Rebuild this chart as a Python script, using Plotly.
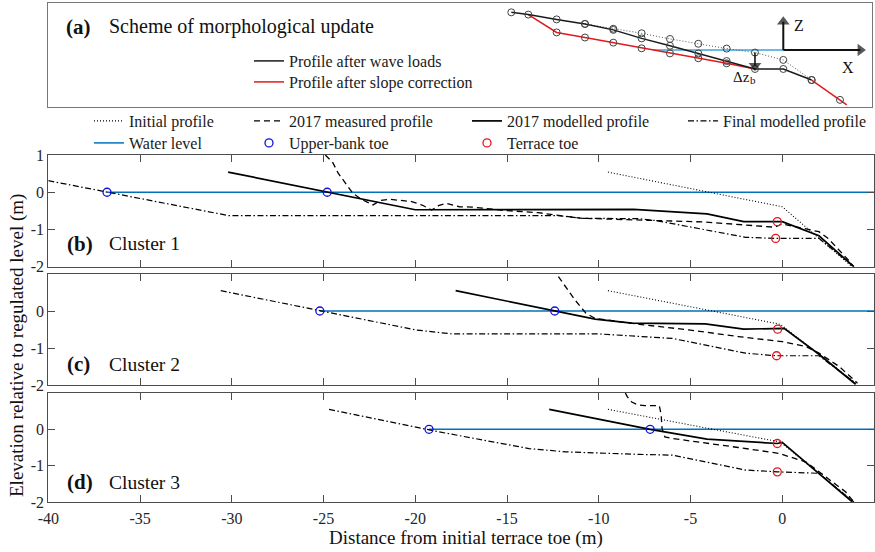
import plotly.graph_objects as go

W, H = 875, 552
FONT = "Liberation Serif"
AXC = "#4d4d4d"

# ---------------- tick labels ----------------
x_ticks = [-40, -35, -30, -25, -20, -15, -10, -5, 0, 5]
x_ticktext = ["-40", "-35", "-30", "-25", "-20", "-15", "-10", "-5", "0", "5"]
y_ticks_b = [1, 0, -1, -2]
y_ticktext_b = ["1", "0", "-1", "-2"]
y_ticks_cd = [0, -1, -2]
y_ticktext_cd = ["0", "-1", "-2"]

# ---------------- Cluster 1 (b) ----------------
init_x_1 = [-9.5, 0.0, 3.8]
init_z_1 = [0.54, -0.39, -2.0]
meas_x_1 = [-24.9, -24.5, -24.2, -23.8, -23.4, -22.9, -22.3, -21.9, -21.4, -20.8, -20.2, -19.6,
            -19.1, -18.7, -18.3, -17.6, -16.9, -15.1, -13.3, -10.9, -7.8, -4.2, -2.0, -0.4,
            0.0, 1.0, 2.0, 2.5, 3.0, 3.6, 3.9]
meas_z_1 = [1.0, 0.8, 0.51, 0.25, -0.03, -0.2, -0.34, -0.22, -0.19, -0.22, -0.25, -0.35,
            -0.48, -0.35, -0.30, -0.39, -0.40, -0.49, -0.55, -0.70, -0.74, -0.80, -0.88, -0.94,
            -0.85, -0.95, -1.06, -1.24, -1.5, -1.82, -2.0]
mod_x_1 = [-30.2, -24.8, -20.0, -8.1, -4.1, -2.1, 0.0, 2.0, 3.9]
mod_z_1 = [0.54, 0.0, -0.47, -0.46, -0.58, -0.79, -0.79, -1.17, -2.0]
fin_x_1 = [-40.0, -36.8, -30.15, -12.2, -10.9, -7.8, -6.9, -2.0, -0.36, 2.0, 3.9]
fin_z_1 = [0.31, 0.0, -0.63, -0.63, -0.70, -0.71, -0.76, -1.21, -1.24, -1.24, -2.0]
water_x_1 = [-36.8, 5.0]
ubt_x_1 = [-36.8, -24.8]
ubt_z_1 = [0.0, 0.0]
tt_x_1 = [-0.27, -0.36]
tt_z_1 = [-0.79, -1.24]

# ---------------- Cluster 2 (c) ----------------
init_x_2 = [-9.5, -0.1, 4.0]
init_z_2 = [0.55, -0.36, -1.95]
meas_x_2 = [-12.2, -11.8, -11.3, -10.7, -10.2, -7.8, -5.1, -2.4, 0.0, 1.3, 2.0, 3.1, 4.1]
meas_z_2 = [0.93, 0.66, 0.30, -0.06, -0.20, -0.36, -0.51, -0.69, -0.83, -0.96, -1.14, -1.5, -1.95]
mod_x_2 = [-17.8, -12.4, -10.2, -8.2, -4.2, -2.1, -0.25, 0.1, 2.0, 4.0]
mod_z_2 = [0.55, 0.0, -0.22, -0.33, -0.35, -0.49, -0.49, -0.47, -1.17, -1.98]
fin_x_2 = [-30.6, -25.2, -20.0, -18.0, -10.0, -6.0, -2.0, -0.31, 2.0, 4.0]
fin_z_2 = [0.55, 0.0, -0.51, -0.62, -0.62, -0.74, -1.14, -1.21, -1.21, -1.95]
water_x_2 = [-25.2, 5.0]
ubt_x_2 = [-25.2, -12.4]
ubt_z_2 = [0.0, 0.0]
tt_x_2 = [-0.25, -0.31]
tt_z_2 = [-0.49, -1.21]

# ---------------- Cluster 3 (d) ----------------
init_x_3 = [-9.5, -0.1, 3.9]
init_z_3 = [0.55, -0.35, -2.0]
meas_x_3 = [-8.55, -8.45, -8.2, -7.9, -7.5, -6.7, -6.6, -6.55, -6.4, -6.0, -2.4, -0.2, 1.3,
            2.0, 2.6, 3.45, 3.9]
meas_z_3 = [1.0, 0.9, 0.75, 0.68, 0.65, 0.65, 0.4, 0.02, -0.21, -0.25, -0.5, -0.66, -0.9,
            -1.17, -1.4, -1.72, -2.0]
mod_x_3 = [-12.7, -7.2, -4.1, -0.27, 0.0, 3.8]
mod_z_3 = [0.55, 0.0, -0.27, -0.39, -0.36, -1.99]
fin_x_3 = [-24.7, -19.25, -18.7, -13.8, -11.8, -7.8, -6.0, -2.0, -0.27, 2.0, 3.9]
fin_z_3 = [0.55, 0.0, -0.07, -0.53, -0.62, -0.69, -0.71, -1.12, -1.17, -1.21, -2.0]
water_x_3 = [-19.25, 5.0]
ubt_x_3 = [-19.25, -7.2]
ubt_z_3 = [0.0, 0.0]
tt_x_3 = [-0.27, -0.27]
tt_z_3 = [-0.39, -1.17]

cluster_names = ["Cluster 1", "Cluster 2", "Cluster 3"]
panel_tags = ["(b)", "(c)", "(d)"]

# ---------------- scheme (a), schematic units ----------------
scheme_wave_x = [-9.6, -9, -8, -7, -6, -5, -4, -3, -2, -1, 0, 1]
scheme_wave_z = [1.33, 1.25, 1.08, 0.92, 0.71, 0.41, 0.15, -0.12, -0.39, -0.67, -0.67, -1.06]
scheme_corr_x = [-9, -8, -7, -6, -5, -4, -3, -2, -1, None, 1, 2, 2.24]
scheme_corr_z = [1.25, 0.62, 0.44, 0.26, 0.06, -0.12, -0.29, -0.47, -0.67, None, -1.06, -1.76, -1.94]
scheme_corr_node_x = [-8, -7, -6, -5, -4, -3, -2, 2]
scheme_corr_node_z = [0.62, 0.44, 0.26, 0.06, -0.12, -0.29, -0.47, -1.76]
scheme_init_x = [-7, -6, -5, -4, -3, -2, -1, 0, 1]
scheme_init_z = [0.92, 0.75, 0.59, 0.39, 0.22, 0.05, -0.09, -0.35, -1.06]
scheme_water_x = [-4.6, 0.0]
scheme_water_z = [0.0, 0.0]
scheme_zaxis_x = [0.0, 0.0]
scheme_zaxis_z = [0.0, 1.0]
scheme_xaxis_x = [0.0, 2.72]
scheme_xaxis_z = [0.0, 0.0]
scheme_dz_x = [-1.0, -1.0]
scheme_dz_z = [-0.09, -0.56]

clusters = [
    dict(init=(init_x_1, init_z_1), meas=(meas_x_1, meas_z_1), mod=(mod_x_1, mod_z_1),
         fin=(fin_x_1, fin_z_1), water=water_x_1, ubt=(ubt_x_1, ubt_z_1), tt=(tt_x_1, tt_z_1)),
    dict(init=(init_x_2, init_z_2), meas=(meas_x_2, meas_z_2), mod=(mod_x_2, mod_z_2),
         fin=(fin_x_2, fin_z_2), water=water_x_2, ubt=(ubt_x_2, ubt_z_2), tt=(tt_x_2, tt_z_2)),
    dict(init=(init_x_3, init_z_3), meas=(meas_x_3, meas_z_3), mod=(mod_x_3, mod_z_3),
         fin=(fin_x_3, fin_z_3), water=water_x_3, ubt=(ubt_x_3, ubt_z_3), tt=(tt_x_3, tt_z_3)),
]

# ---------------- layout geometry (pixels) ----------------
PLOT_L, PLOT_R = 48.3, 874.0
panel_px = [(155.0, 266.7), (274.0, 385.0), (393.0, 502.0)]
scheme_px = (3.0, 107.0)
SCHEME_R = 872.0


def ydom(top, bot):
    return [1 - bot / H, 1 - top / H]


fig = go.Figure()

BLUE_W = "#0072BD"
BLUE_M = "#1010E0"
RED_M = "#E8141C"

styles = {
    "init": dict(name="Initial profile", line=dict(color="black", width=1.1, dash="1px,2px"), legend="legend"),
    "meas": dict(name="2017 measured profile", line=dict(color="black", width=1.3, dash="6px,4px"), legend="legend2"),
    "mod": dict(name="2017 modelled profile", line=dict(color="black", width=1.7), legend="legend3"),
    "fin": dict(name="Final modelled profile", line=dict(color="black", width=1.2, dash="6px,2.5px,1.5px,2.5px"), legend="legend4"),
}

for i, c in enumerate(clusters):
    xa = "x" if i == 0 else f"x{i+1}"
    ya = "y" if i == 0 else f"y{i+1}"
    show = i == 0
    fig.add_trace(go.Scatter(x=c["water"], y=[0, 0], mode="lines", name="Water level",
                             line=dict(color=BLUE_W, width=1.5), xaxis=xa, yaxis=ya,
                             legend="legend5", showlegend=show, hoverinfo="skip"))
    for key in ["init", "fin", "meas", "mod"]:
        s = styles[key]
        fig.add_trace(go.Scatter(x=c[key][0], y=c[key][1], mode="lines", name=s["name"],
                                 line=s["line"], xaxis=xa, yaxis=ya, legend=s["legend"],
                                 showlegend=show))
    fig.add_trace(go.Scatter(x=c["ubt"][0], y=c["ubt"][1], mode="markers", name="Upper-bank toe",
                             marker=dict(symbol="circle-open", size=8, color=BLUE_M, line=dict(width=1.3)),
                             xaxis=xa, yaxis=ya, legend="legend6", showlegend=show))
    fig.add_trace(go.Scatter(x=c["tt"][0], y=c["tt"][1], mode="markers", name="Terrace toe",
                             marker=dict(symbol="circle-open", size=8, color=RED_M, line=dict(width=1.3)),
                             xaxis=xa, yaxis=ya, legend="legend7", showlegend=show))

# scheme traces
node_marker = dict(symbol="circle-open", size=7, color="#444444", line=dict(width=1))
fig.add_trace(go.Scatter(x=scheme_water_x, y=scheme_water_z, mode="lines", showlegend=False,
                         line=dict(color="#3DA5D9", width=1.5), xaxis="x4", yaxis="y4"))
fig.add_trace(go.Scatter(x=scheme_init_x, y=scheme_init_z, mode="lines+markers", showlegend=False,
                         line=dict(color="#555555", width=1, dash="1px,2px"), marker=node_marker,
                         xaxis="x4", yaxis="y4"))
fig.add_trace(go.Scatter(x=scheme_corr_x, y=scheme_corr_z, mode="lines", name="Profile after slope correction",
                         line=dict(color="#E31A1C", width=1.5), xaxis="x4", yaxis="y4",
                         legend="legend9", showlegend=True))
fig.add_trace(go.Scatter(x=scheme_wave_x, y=scheme_wave_z, mode="lines", name="Profile after wave loads",
                         line=dict(color="#1a1a1a", width=1.5), xaxis="x4", yaxis="y4",
                         legend="legend8", showlegend=True))
fig.add_trace(go.Scatter(x=scheme_wave_x, y=scheme_wave_z, mode="markers", showlegend=False,
                         marker=node_marker, xaxis="x4", yaxis="y4"))
fig.add_trace(go.Scatter(x=scheme_corr_node_x, y=scheme_corr_node_z, mode="markers", showlegend=False,
                         marker=node_marker, xaxis="x4", yaxis="y4"))
# coordinate arrows and the vertical update arrow
for ax_x, ax_z, wdt in [(scheme_zaxis_x, scheme_zaxis_z, 2), (scheme_xaxis_x, scheme_xaxis_z, 2),
                        (scheme_dz_x, scheme_dz_z, 1.6)]:
    fig.add_trace(go.Scatter(x=ax_x, y=ax_z, mode="lines+markers", showlegend=False,
                             line=dict(color="#111111", width=wdt),
                             marker=dict(symbol="triangle-up", size=[0, 11], angleref="previous",
                                         color="#111111", line=dict(width=0)),
                             xaxis="x4", yaxis="y4", hoverinfo="skip"))

# ---------------- axes ----------------
axis_common = dict(showgrid=False, zeroline=False, showline=True, linecolor=AXC, linewidth=1,
                   mirror="ticks", ticks="inside", ticklen=7, tickcolor=AXC, tickwidth=1,
                   automargin=False,
                   tickfont=dict(family=FONT, size=16, color="#262626"))
layout = dict()
for i in range(3):
    sfx = "" if i == 0 else str(i + 1)
    top, bot = panel_px[i]
    layout["xaxis" + sfx] = dict(axis_common, domain=[PLOT_L / W, PLOT_R / W], range=[-40, 5],
                                 tickvals=x_ticks, ticktext=x_ticktext, showticklabels=(i == 2),
                                 anchor="y" + sfx, ticklabelstandoff=2)
    layout["yaxis" + sfx] = dict(axis_common, domain=ydom(top, bot), range=[-2, 1],
                                 tickvals=y_ticks_b if i == 0 else y_ticks_cd,
                                 ticktext=y_ticktext_b if i == 0 else y_ticktext_cd,
                                 anchor="x" + sfx)

# scheme axes: 1 unit = 28.33 px, origin at (783.3, 50) px
U = 85 / 3
ox, oy = 783.3, 50.0
layout["xaxis4"] = dict(domain=[PLOT_L / W, SCHEME_R / W], range=[(PLOT_L - ox) / U, (SCHEME_R - ox) / U],
                        showgrid=False, zeroline=False, showticklabels=False, ticks="", automargin=False,
                        showline=True, mirror=True, linecolor="#777777", linewidth=1.2, anchor="y4")
layout["yaxis4"] = dict(domain=ydom(*scheme_px), range=[(oy - scheme_px[1]) / U, (oy - scheme_px[0]) / U],
                        showgrid=False, zeroline=False, showticklabels=False, ticks="", automargin=False,
                        showline=True, mirror=True, linecolor="#777777", linewidth=1.2, anchor="x4")

# ---------------- legends ----------------
def leg(text_x, row_y, size):
    return dict(x=(text_x - 40) / W, y=1 - row_y / H, xanchor="left", yanchor="middle",
                orientation="v", bgcolor="rgba(0,0,0,0)", borderwidth=0,
                font=dict(family=FONT, size=size, color="#1a1a1a"))

legend_pos = {
    "legend": (129, 121, 16), "legend2": (289, 121, 16), "legend3": (507, 121, 16), "legend4": (723, 121, 16),
    "legend5": (129, 143, 16), "legend6": (289, 143, 16), "legend7": (507, 143, 16),
    "legend8": (289, 61, 16), "legend9": (289, 82, 16),
}
for k, (tx, ry, sz) in legend_pos.items():
    layout[k] = leg(tx, ry, sz)

# ---------------- annotations ----------------
ann = []


def ptext(text, px, py, size, bold=False, anchor="left"):
    ann.append(dict(text=f"<b>{text}</b>" if bold else text, x=px / W, y=1 - py / H, xref="paper",
                    yref="paper", showarrow=False, xanchor=anchor, yanchor="middle",
                    font=dict(family=FONT, size=size, color="#111111")))


ptext("(a)", 64, 27, 21, bold=True)
ptext("Scheme of morphological update", 107, 27, 20)
label_y = [244, 364, 482]
for i in range(3):
    ptext(panel_tags[i], 65, label_y[i], 21, bold=True)
    ptext(cluster_names[i], 107, label_y[i], 19.5)
ptext("Distance from initial terrace toe (m)", 466, 538, 19, anchor="center")
ann.append(dict(text="Elevation relative to regulated level (m)", x=17 / W, y=1 - 346 / H, xref="paper",
                yref="paper", showarrow=False, textangle=-90, xanchor="center", yanchor="middle",
                font=dict(family=FONT, size=19, color="#111111")))

for t, xy, sz in [("Z", (0.55, 0.88), 16), ("X", (2.3, -0.6), 16), ("Δz", (-1.48, -0.95), 15),
                  ("b", (-1.08, -1.07), 11)]:
    ann.append(dict(text=t, x=xy[0], y=xy[1], xref="x4", yref="y4", showarrow=False,
                    xanchor="center", yanchor="middle", font=dict(family=FONT, size=sz, color="#111111")))

layout["annotations"] = ann
fig.update_layout(**layout)
fig.update_layout(width=W, height=H, margin=dict(l=0, r=0, t=0, b=0), paper_bgcolor="white",
                  plot_bgcolor="white", font=dict(family=FONT))

fig.write_html("out.html")
